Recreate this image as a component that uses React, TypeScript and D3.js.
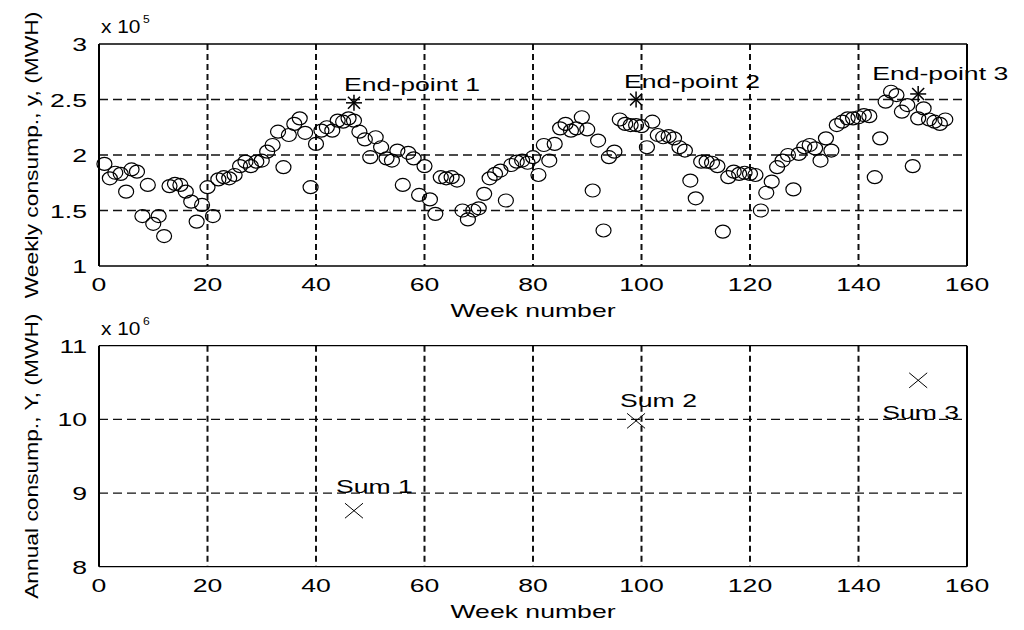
import React from 'react';
import * as d3 from 'd3';

// weekly consumption, x 10^5 MWH, weeks 1..156
const weeklyConsumption = [
  1.92, 1.79, 1.84, 1.83, 1.67, 1.87, 1.85, 1.45, 1.73, 1.38,
  1.45, 1.27, 1.72, 1.74, 1.73, 1.67, 1.58, 1.40, 1.55, 1.71,
  1.45, 1.78, 1.80, 1.79, 1.82, 1.90, 1.94, 1.90, 1.94, 1.95,
  2.03, 2.09, 2.21, 1.89, 2.18, 2.28, 2.33, 2.20, 1.71, 2.10,
  2.22, 2.25, 2.22, 2.31, 2.30, 2.33, 2.31, 2.21, 2.14, 1.98,
  2.16, 2.07, 1.97, 1.95, 2.04, 1.73, 2.02, 1.97, 1.64, 1.90,
  1.60, 1.47, 1.80, 1.79, 1.80, 1.77, 1.50, 1.42, 1.50, 1.52,
  1.65, 1.79, 1.83, 1.86, 1.59, 1.91, 1.94, 1.95, 1.93, 1.98,
  1.82, 2.09, 1.95, 2.10, 2.24, 2.28, 2.22, 2.24, 2.34, 2.23,
  1.68, 2.13, 1.32, 1.98, 2.03, 2.32, 2.28, 2.27, 2.27, 2.26,
  2.07, 2.30, 2.18, 2.16, 2.17, 2.15, 2.07, 2.04, 1.77, 1.61,
  1.94, 1.94, 1.93, 1.90, 1.31, 1.80, 1.85, 1.83, 1.84, 1.83,
  1.82, 1.50, 1.66, 1.76, 1.89, 1.95, 2.00, 1.69, 2.01, 2.07,
  2.09, 2.06, 1.95, 2.15, 2.04, 2.27, 2.30, 2.33, 2.33, 2.34,
  2.36, 2.35, 1.80, 2.15, 2.48, 2.57, 2.54, 2.39, 2.45, 1.90,
  2.33, 2.42, 2.32, 2.30, 2.28, 2.32,
];

const endWeeks = [47, 99, 151];
const endPointValues = [2.47, 2.5, 2.55]; // x 10^5
const endPointLabels = ['End-point 1', 'End-point 2', 'End-point 3'];
const endLabelOffsets = [[-10, -12], [-12, -12], [-46, -14]];

const sumValues = [8.76, 9.98, 10.53]; // x 10^6
const sumLabels = ['Sum 1', 'Sum 2', 'Sum 3'];
const sumLabelOffsets = [[-18, -18], [-16, -14], [-36, 39]];

const xTicks = [0, 20, 40, 60, 80, 100, 120, 140, 160];
const topTicks = [1, 1.5, 2, 2.5, 3];
const bottomTicks = [8, 9, 10, 11];

const W = 1024;
const H = 630;
const left = 99;
const right = 967;
const FONT = '"Liberation Sans", Arial, sans-serif';
const SX = 1.4; // old matlab screen font is wide

const x = d3.scaleLinear().domain([0, 160]).range([left, right]);
const yTop = d3.scaleLinear().domain([1, 3]).range([266, 44]);
const yBot = d3.scaleLinear().domain([8, 11]).range([566.7, 345.7]);

const HText = ({ x, y, anchor = 'start', size = 19, sx = SX, children }: any) => (
  <text transform={`translate(${x},${y}) scale(${sx},1)`} textAnchor={anchor} fontSize={size}>
    {children}
  </text>
);

const Panel = ({ y, ticks, label, exp }: any) => {
  const [y0, y1] = y.range();
  return (
    <g>
      {/* grid */}
      {xTicks.slice(1, -1).map(t => (
        <line key={'v' + t} x1={x(t)} x2={x(t)} y1={y1} y2={y0}
          stroke="#111" strokeWidth={2} strokeDasharray="6 4" />
      ))}
      {ticks.slice(1, -1).map(t => (
        <line key={'h' + t} x1={left} x2={right} y1={y(t)} y2={y(t)}
          stroke="#111" strokeWidth={1.3} strokeDasharray="9 5" />
      ))}
      {/* box */}
      <line x1={left} x2={right} y1={y1} y2={y1} stroke="#000" strokeWidth={1.3} />
      <line x1={left} x2={right} y1={y0} y2={y0} stroke="#000" strokeWidth={1.3} />
      <line x1={left} x2={left} y1={y1} y2={y0} stroke="#000" strokeWidth={2} />
      <line x1={right} x2={right} y1={y1} y2={y0} stroke="#000" strokeWidth={2} />
      {/* tick labels */}
      {xTicks.map(t => (
        <HText key={'xt' + t} x={x(t)} y={y0 + 25} anchor="middle">{t}</HText>
      ))}
      {ticks.map(t => (
        <HText key={'yt' + t} x={87} y={y(t) + 7} anchor="end">{String(t)}</HText>
      ))}
      <HText x={(left + right) / 2} y={y0 + 51} anchor="middle">Week number</HText>
      {/* exponent */}
      <HText x={101} y={y1 - 11} sx={1.1}>x 10</HText>
      <HText x={143} y={y1 - 21} size={11} sx={1.1}>{exp}</HText>
      {/* y label */}
      <text transform={`translate(38,${(y0 + y1) / 2}) rotate(-90) scale(1.2,1)`}
        textAnchor="middle" fontSize={19}>{label}</text>
    </g>
  );
};

const Star = ({ cx, cy }: any) => (
  <g stroke="#000" strokeWidth={1.5}>
    <line x1={cx - 8} x2={cx + 8} y1={cy} y2={cy} />
    <line x1={cx} x2={cx} y1={cy - 8} y2={cy + 8} />
    <line x1={cx - 6} x2={cx + 6} y1={cy - 6} y2={cy + 6} />
    <line x1={cx - 6} x2={cx + 6} y1={cy + 6} y2={cy - 6} />
  </g>
);

const Cross = ({ cx, cy }: any) => (
  <g stroke="#000" strokeWidth={1}>
    <line x1={cx - 9} x2={cx + 9} y1={cy - 7.5} y2={cy + 7.5} />
    <line x1={cx - 9} x2={cx + 9} y1={cy + 7.5} y2={cy - 7.5} />
  </g>
);

export default function App() {
  return (
    <svg width={W} height={H} style={{ position: 'absolute', left: 0, top: 0, background: '#fff' }}
      fontFamily={FONT}>
      <rect width={W} height={H} fill="#fff" />
      <Panel y={yTop} ticks={topTicks} label="Weekly consump., y, (MWH)" exp="5" />
      <Panel y={yBot} ticks={bottomTicks} label="Annual consump., Y, (MWH)" exp="6" />

      {weeklyConsumption.map((v, i) => (
        <ellipse key={i} cx={x(i + 1)} cy={yTop(v)} rx={7.5} ry={6.5}
          fill="none" stroke="#000" strokeWidth={1.2} />
      ))}

      {endWeeks.map((wk, i) => (
        <g key={'e' + i}>
          <Star cx={x(wk)} cy={yTop(endPointValues[i])} />
          <HText x={x(wk) + endLabelOffsets[i][0]} y={yTop(endPointValues[i]) + endLabelOffsets[i][1]}>
            {endPointLabels[i]}
          </HText>
        </g>
      ))}

      {endWeeks.map((wk, i) => (
        <g key={'s' + i}>
          <Cross cx={x(wk)} cy={yBot(sumValues[i])} />
          <HText x={x(wk) + sumLabelOffsets[i][0]} y={yBot(sumValues[i]) + sumLabelOffsets[i][1]}>
            {sumLabels[i]}
          </HText>
        </g>
      ))}
    </svg>
  );
}
